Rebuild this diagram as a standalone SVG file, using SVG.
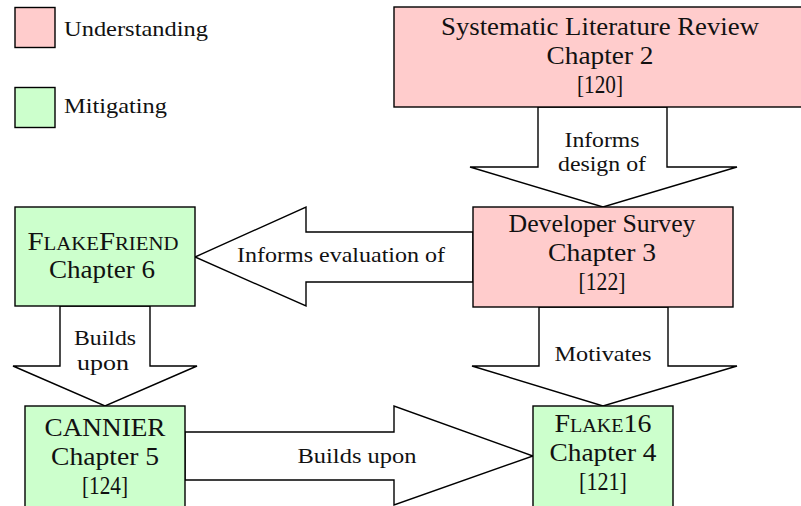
<svg xmlns="http://www.w3.org/2000/svg" width="801" height="506" viewBox="0 0 801 506" font-family="Liberation Serif, serif">
  <style>
    .box { stroke: #000; stroke-width: 1.4; }
    .und { fill: #ffcccc; }
    .mit { fill: #ccffcc; }
    .arrow { fill: #fff; stroke: #000; stroke-width: 1.4; stroke-linejoin: miter; }
    text { fill: #111; }
    .node { font-size: 25px; text-anchor: middle; }
    .lbl { font-size: 21px; text-anchor: middle; }
    .leg { font-size: 21px; }
    .sc { font-variant: small-caps; }
  </style>
  <rect width="801" height="506" fill="#fff"/>

  <g id="legend">
    <rect class="box und" x="15" y="7.5" width="40" height="40"/>
    <text class="leg" font-family="Liberation Serif" x="64" y="36" textLength="144" lengthAdjust="spacingAndGlyphs">Understanding</text>
    <rect class="box mit" x="15" y="87.5" width="40" height="40"/>
    <text class="leg" font-family="Liberation Serif" x="64" y="113" textLength="103" lengthAdjust="spacingAndGlyphs">Mitigating</text>
  </g>

  <g id="connectors" font-family="Liberation Serif">
    <g id="e-slr-survey">
      <polygon class="arrow" points="538,107 667,107 667,167 737,167 603,207 470,167 538,167"/>
      <text class="lbl" x="602" y="147" textLength="75" lengthAdjust="spacingAndGlyphs">Informs</text>
      <text class="lbl" x="602" y="171" textLength="88" lengthAdjust="spacingAndGlyphs">design of</text>
    </g>
    <g id="e-survey-flakefriend">
      <polygon class="arrow" points="473,232 306,232 306,207 195,257 306,306 306,282 473,282"/>
      <text class="lbl" x="341" y="262" textLength="208" lengthAdjust="spacingAndGlyphs">Informs evaluation of</text>
    </g>
    <g id="e-survey-flake16">
      <polygon class="arrow" points="539,307 668,307 668,366 737,366 603,406 472,366 539,366"/>
      <text class="lbl" x="603" y="361" textLength="97" lengthAdjust="spacingAndGlyphs">Motivates</text>
    </g>
    <g id="e-flakefriend-cannier">
      <polygon class="arrow" points="60,306 150,306 150,366 197,366 105,406 13,366 60,366"/>
      <text class="lbl" x="105" y="345" textLength="62" lengthAdjust="spacingAndGlyphs">Builds</text>
      <text class="lbl" x="103" y="370" textLength="52" lengthAdjust="spacingAndGlyphs">upon</text>
    </g>
    <g id="e-cannier-flake16">
      <polygon class="arrow" points="185,432 394,432 394,406 533,456 394,505 394,480 185,480"/>
      <text class="lbl" x="357" y="463" textLength="119" lengthAdjust="spacingAndGlyphs">Builds upon</text>
    </g>
  </g>

  <g id="slr" font-family="Liberation Serif">
    <rect class="box und" x="394" y="7" width="420" height="100"/>
    <text class="node" x="600" y="35" textLength="318" lengthAdjust="spacingAndGlyphs">Systematic Literature Review</text>
    <text class="node" x="600" y="64" textLength="107" lengthAdjust="spacingAndGlyphs">Chapter 2</text>
    <text class="node" x="600" y="93" textLength="46" lengthAdjust="spacingAndGlyphs">[120]</text>
  </g>

  <g id="survey" font-family="Liberation Serif">
    <rect class="box und" x="473" y="207" width="260" height="100"/>
    <text class="node" x="602" y="232" textLength="187" lengthAdjust="spacingAndGlyphs">Developer Survey</text>
    <text class="node" x="602" y="261" textLength="108" lengthAdjust="spacingAndGlyphs">Chapter 3</text>
    <text class="node" x="602" y="290" textLength="47" lengthAdjust="spacingAndGlyphs">[122]</text>
  </g>

  <g id="flakefriend" font-family="Liberation Serif">
    <rect class="box mit" x="15" y="207" width="180" height="99"/>
    <text class="node sc" x="103" y="250" textLength="151" lengthAdjust="spacingAndGlyphs">FlakeFriend</text>
    <text class="node" x="102" y="278" textLength="106" lengthAdjust="spacingAndGlyphs">Chapter 6</text>
  </g>

  <g id="cannier" font-family="Liberation Serif">
    <rect class="box mit" x="25" y="406" width="160" height="110"/>
    <text class="node" x="105" y="436" textLength="121" lengthAdjust="spacingAndGlyphs">CANNIER</text>
    <text class="node" x="105" y="465" textLength="108" lengthAdjust="spacingAndGlyphs">Chapter 5</text>
    <text class="node" x="105" y="494" textLength="46" lengthAdjust="spacingAndGlyphs">[124]</text>
  </g>

  <g id="flake16" font-family="Liberation Serif">
    <rect class="box mit" x="533" y="406" width="140" height="110"/>
    <text class="node sc" x="603" y="432" textLength="97" lengthAdjust="spacingAndGlyphs">Flake16</text>
    <text class="node" x="603" y="461" textLength="107" lengthAdjust="spacingAndGlyphs">Chapter 4</text>
    <text class="node" x="603" y="490" textLength="48" lengthAdjust="spacingAndGlyphs">[121]</text>
  </g>
</svg>
